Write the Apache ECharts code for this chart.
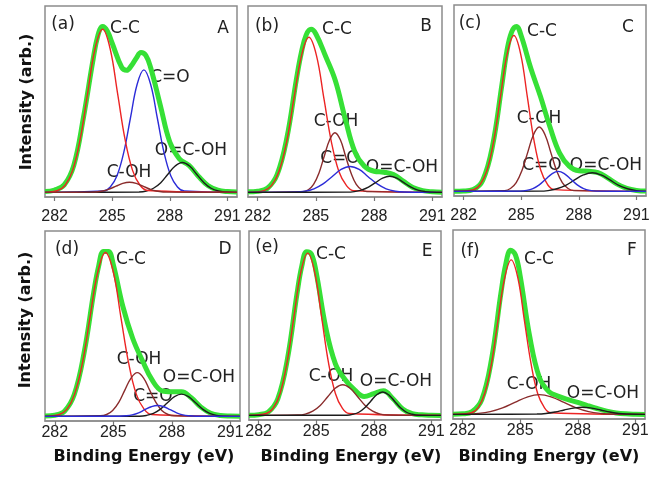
<!DOCTYPE html>
<html>
<head>
<meta charset="utf-8">
<script src="https://cdn.jsdelivr.net/npm/echarts@6/dist/echarts.min.js"></script>
<style>
  html, body { margin: 0; background: #fff; }
  #chart { width: 653px; height: 487px; }
</style>
</head>
<body>
<div id="chart"></div>
<script>
// x axis ticks (binding energy, eV)
var energyTicks = [282, 285, 288, 291];
var panelTags = ['(a)', '(b)', '(c)', '(d)', '(e)', '(f)'];
var panelLetters = ['A', 'B', 'C', 'D', 'E', 'F'];

// ---- panel A ----
var dataA = [[281.5,0.4],[282,1.2],[282.5,4],[283,14.5],[283.5,40],[284,71],[284.25,84],[284.5,89],[284.75,86.5],[285,80],[285.5,67],[285.75,65.5],[286,68],[286.25,72],[286.5,75],[286.75,73.5],[287,67],[287.5,47],[288,27],[288.5,18],[289,14.5],[289.5,8.5],[290,3.5],[290.5,1.2],[291,0.4],[291.5,0.2]];
var ccA = [[281.5,0],[282.16,1.0],[282.55,3.8],[282.94,11.8],[283.33,28.4],[283.72,53.1],[284.11,77.2],[284.5,87.5],[284.89,77.2],[285.28,53.1],[285.67,28.4],[286.06,11.8],[286.45,3.8],[286.84,1.0],[291.5,0]];
var coA = [[281.5,0],[284.55,0.7],[284.9,2.9],[285.25,8.9],[285.6,21.3],[285.95,39.9],[286.3,58.0],[286.65,65.7],[287.0,58.0],[287.35,39.9],[287.7,21.3],[288.05,8.9],[288.4,2.9],[288.75,0.7],[291.5,0]];
var cohA = [[281.5,0],[283.8,0.1],[284.15,0.2],[284.5,0.7],[284.85,1.8],[285.2,3.3],[285.55,4.8],[285.9,5.4],[286.25,4.8],[286.6,3.3],[286.95,1.8],[287.3,0.7],[287.65,0.2],[288.0,0.1],[291.5,0]];
var coohA = [[281.5,0],[286.4,0.2],[286.78,0.7],[287.15,2.2],[287.53,5.2],[287.9,9.7],[288.28,14.1],[288.65,16],[289.03,14.1],[289.4,9.7],[289.78,5.2],[290.15,2.2],[290.53,0.7],[290.9,0.2],[291.5,0]];

// ---- panel B ----
var dataB = [[281.5,0.3],[282,0.6],[282.5,2.2],[283,9.5],[283.5,29],[284,61],[284.25,75],[284.5,84.5],[284.75,87.5],[285,85],[285.5,73],[286,60],[286.5,40],[287,22],[287.5,14],[288,11.3],[288.5,10.8],[289,9.5],[289.5,6],[290,2.6],[290.5,0.9],[291,0.3],[291.5,0.1]];
var ccB = [[281.5,0],[282.33,0.9],[282.72,3.7],[283.1,11.3],[283.49,27.0],[283.87,50.5],[284.26,73.4],[284.64,83.2],[285.03,73.4],[285.41,50.5],[285.8,27.0],[286.18,11.3],[286.57,3.7],[286.95,0.9],[291.5,0]];
var cohB = [[281.5,0],[284.33,0.4],[284.61,1.4],[284.88,4.3],[285.16,10.4],[285.43,19.4],[285.71,28.2],[285.98,32],[286.26,28.2],[286.53,19.4],[286.81,10.4],[287.08,4.3],[287.36,1.4],[287.63,0.4],[291.5,0]];
var coB = [[281.5,0],[283.97,0.2],[284.44,0.6],[284.9,1.9],[285.37,4.5],[285.83,8.4],[286.3,12.3],[286.76,13.9],[287.23,12.3],[287.69,8.4],[288.16,4.5],[288.62,1.9],[289.09,0.6],[289.55,0.2],[291.5,0]];
var coohB = [[281.5,0],[286.61,0.1],[286.98,0.4],[287.34,1.2],[287.71,2.8],[288.07,5.2],[288.44,7.6],[288.8,8.6],[289.17,7.6],[289.53,5.2],[289.9,2.8],[290.26,1.2],[290.63,0.4],[290.99,0.1],[291.5,0]];

// ---- panel C ----
var dataC = [[281.5,0.1],[282,0.2],[282.5,1.0],[283,6],[283.5,24],[284,57.5],[284.25,75],[284.5,85.5],[284.75,88.5],[285,83.5],[285.5,66],[286,51],[286.5,34.5],[287,20.5],[287.5,13.5],[288,11],[288.5,10.8],[289,10],[289.5,7.2],[290,3.9],[290.5,1.6],[291,0.5],[291.5,0.2]];
var ccC = [[281.5,0],[282.52,0.9],[282.87,3.7],[283.22,11.3],[283.57,27.1],[283.92,50.7],[284.27,73.8],[284.62,83.6],[284.97,73.8],[285.32,50.7],[285.67,27.1],[286.02,11.3],[286.37,3.7],[286.72,0.9],[291.5,0]];
var cohC = [[281.5,0],[284.14,0.4],[284.44,1.5],[284.74,4.7],[285.04,11.2],[285.34,20.9],[285.64,30.4],[285.94,34.5],[286.24,30.4],[286.54,20.9],[286.84,11.2],[287.14,4.7],[287.44,1.5],[287.74,0.4],[291.5,0]];
var coC = [[281.5,0],[284.95,0.1],[285.28,0.5],[285.61,1.5],[285.94,3.5],[286.27,6.5],[286.6,9.4],[286.93,10.7],[287.26,9.4],[287.59,6.5],[287.92,3.5],[288.25,1.5],[288.58,0.5],[288.91,0.1],[291.5,0]];
var coohC = [[281.5,0],[285.94,0.1],[286.4,0.4],[286.86,1.4],[287.32,3.2],[287.78,6.1],[288.24,8.8],[288.7,10],[289.16,8.8],[289.62,6.1],[290.08,3.2],[290.54,1.4],[291.0,0.4],[291.5,0]];

// ---- panel D ----
var dataD = [[281.5,0.2],[282,0.6],[282.5,2.8],[283,11.8],[283.5,34],[284,67],[284.25,81],[284.5,89],[284.75,89],[285,82],[285.5,59],[286,42],[286.5,30],[287,19.5],[287.5,13.8],[288,13.3],[288.5,13.3],[289,10],[289.5,5],[290,1.7],[290.5,0.5],[291,0.2],[291.5,0.1]];
var ccD = [[281.5,0],[282.23,1.0],[282.63,3.9],[283.02,12.0],[283.42,28.7],[283.81,53.6],[284.21,78.0],[284.6,88.4],[285.0,78.0],[285.39,53.6],[285.79,28.7],[286.18,12.0],[286.58,3.9],[286.97,1.0],[291.5,0]];
var cohD = [[281.5,0],[284.34,0.3],[284.66,1.0],[284.97,3.2],[285.29,7.7],[285.6,14.3],[285.92,20.8],[286.23,23.6],[286.55,20.8],[286.86,14.3],[287.18,7.7],[287.49,3.2],[287.81,1.0],[288.12,0.3],[291.5,0]];
var coD = [[281.5,0],[285.32,0.1],[285.65,0.3],[285.97,0.8],[286.3,1.9],[286.62,3.6],[286.95,5.2],[287.27,5.9],[287.6,5.2],[287.92,3.6],[288.25,1.9],[288.57,0.8],[288.9,0.3],[289.22,0.1],[291.5,0]];
var coohD = [[281.5,0],[286.34,0.1],[286.7,0.5],[287.06,1.6],[287.42,3.9],[287.78,7.3],[288.14,10.6],[288.5,12],[288.86,10.6],[289.22,7.3],[289.58,3.9],[289.94,1.6],[290.3,0.5],[290.66,0.1],[291.5,0]];

// ---- panel E ----
var dataE = [[281.5,0.1],[282,0.4],[282.5,1.8],[283,9],[283.5,30.5],[284,66],[284.25,81],[284.5,88.8],[284.75,87.5],[285,77.5],[285.5,47.5],[286,28],[286.5,19.5],[287,13.8],[287.5,10.2],[288,11.8],[288.5,13.3],[289,9],[289.5,3.5],[290,0.9],[290.5,0.3],[291,0.1],[291.5,0]];
var ccE = [[281.5,0],[282.4,1.0],[282.76,3.9],[283.12,11.9],[283.48,28.6],[283.84,53.4],[284.2,77.7],[284.56,88],[284.92,77.7],[285.28,53.4],[285.64,28.6],[286.0,11.9],[286.36,3.9],[286.72,1.0],[291.5,0]];
var cohE = [[281.5,0],[284.04,0.2],[284.43,0.7],[284.82,2.3],[285.21,5.4],[285.6,10.1],[285.99,14.7],[286.38,16.6],[286.77,14.7],[287.16,10.1],[287.55,5.4],[287.94,2.3],[288.33,0.7],[288.72,0.2],[291.5,0]];
var coohE = [[281.5,0],[286.6,0.1],[286.91,0.6],[287.22,1.7],[287.53,4.1],[287.84,7.7],[288.15,11.2],[288.46,12.7],[288.77,11.2],[289.08,7.7],[289.39,4.1],[289.7,1.7],[290.01,0.6],[290.32,0.1],[291.5,0]];

// ---- panel F ----
var dataF = [[281.5,0.1],[282,0.3],[282.5,1.5],[283,8],[283.5,29.5],[284,66],[284.25,81.5],[284.5,89],[284.75,86.5],[285,75],[285.5,42],[286,20],[286.5,12.3],[287,9.8],[287.5,8],[288,6.5],[288.5,4.8],[289,3.2],[289.5,1.8],[290,0.8],[290.5,0.3],[291,0.1],[291.5,0]];
var ccF = [[281.5,0],[282.46,0.9],[282.81,3.7],[283.15,11.3],[283.5,27.2],[283.84,50.8],[284.19,73.9],[284.53,83.8],[284.88,73.9],[285.22,50.8],[285.57,27.2],[285.91,11.3],[286.26,3.7],[286.6,0.9],[291.5,0]];
var cohF = [[281.5,0],[282.16,0.1],[282.8,0.5],[283.44,1.5],[284.08,3.5],[284.72,6.5],[285.36,9.4],[286.0,10.7],[286.64,9.4],[287.28,6.5],[287.92,3.5],[288.56,1.5],[289.2,0.5],[289.84,0.1],[291.5,0]];
var coohF = [[281.5,0],[285.87,0.2],[286.34,0.5],[286.82,1.3],[287.29,2.4],[287.77,3.4],[288.24,3.9],[288.72,3.4],[289.19,2.4],[289.67,1.3],[290.14,0.5],[290.62,0.2],[291.5,0]];

// which fitted components each panel shows (drawing order: last one on top)
var panelData = [dataA, dataB, dataC, dataD, dataE, dataF];
var panelComps = [
  [['C=O', coA], ['O=C-OH', coohA], ['C-C', ccA], ['C-OH', cohA]],
  [['C-C', ccB], ['C-OH', cohB], ['C=O', coB], ['O=C-OH', coohB]],
  [['C-C', ccC], ['C-OH', cohC], ['O=C-OH', coohC], ['C=O', coC]],
  [['C-C', ccD], ['C-OH', cohD], ['O=C-OH', coohD], ['C=O', coD]],
  [['C-C', ccE], ['C-OH', cohE], ['O=C-OH', coohE]],
  [['C-C', ccF], ['C-OH', cohF], ['O=C-OH', coohF]]
];

var compColor = { 'C-C': '#ec2424', 'C=O': '#2c2cd8', 'C-OH': '#8a2c2c', 'O=C-OH': '#1c1c1c' };

// layout (pixels)
var boxes = [
  { left: 45, top: 6, width: 192, height: 191 },
  { left: 248, top: 6, width: 194, height: 191 },
  { left: 454, top: 5, width: 192, height: 191 },
  { left: 45, top: 231, width: 195, height: 190 },
  { left: 249, top: 231, width: 192, height: 189 },
  { left: 453, top: 230, width: 192, height: 189 }
];
var labelMargin = [12, 12, 12, 4, 4, 4];
var tagPos = [[63,25],[267,27],[470,24],[67,250],[267,248],[470,252]];
var letterPos = [[223,29],[426,27],[628,28],[225,250],[427,252],[632,251]];
var peakLabelPos = [
  [['C-C',125,29],['C=O',170,78],['O=C-OH',191,151],['C-OH',129,173]],
  [['C-C',337,30],['C-OH',336,122],['C=O',340,159],['O=C-OH',402,168]],
  [['C-C',542,32],['C-OH',539,119],['C=O',542,166],['O=C-OH',606,166]],
  [['C-C',131,260],['C-OH',139,360],['C=O',153,397],['O=C-OH',199,378]],
  [['C-C',331,255],['C-OH',331,377],['O=C-OH',396,382]],
  [['C-C',539,260],['C-OH',529,385],['O=C-OH',603,394]]
];

var labelFont = '17px "DejaVu Sans"';
var titleFont = 'bold 16px "DejaVu Sans"';

var grids = [], xAxes = [], yAxes = [], series = [], graphics = [];

boxes.forEach(function (b, i) {
  grids.push({
    left: b.left, top: b.top, width: b.width, height: b.height,
    show: true, borderColor: '#8c8c8c', borderWidth: 1.5,
    containLabel: false, outerBoundsMode: 'none'
  });
  xAxes.push({
    gridIndex: i, type: 'value', min: 281.5, max: 291.5,
    axisLine: { show: true, onZero: false, lineStyle: { color: '#8c8c8c', width: 1.5 } },
    axisTick: { show: true, customValues: energyTicks, length: 4, lineStyle: { color: '#777', width: 1.2 } },
    axisLabel: { customValues: energyTicks, fontSize: 16, fontFamily: 'Liberation Sans', color: '#222', margin: labelMargin[i] },
    splitLine: { show: false }
  });
  yAxes.push({ gridIndex: i, type: 'value', min: -2.5, max: 100, show: false });

  // measured spectrum: thick green band
  series.push({
    type: 'line', xAxisIndex: i, yAxisIndex: i, data: panelData[i],
    smooth: 0.4, showSymbol: false, silent: true,
    lineStyle: { color: '#36e036', width: 5 }
  });
  panelComps[i].forEach(function (c) {
    series.push({
      type: 'line', xAxisIndex: i, yAxisIndex: i, data: c[1],
      smooth: 0.4, showSymbol: false, silent: true,
      lineStyle: { color: compColor[c[0]], width: 1.4 }
    });
  });

  graphics.push({ type: 'text', x: tagPos[i][0], y: tagPos[i][1],
    style: { text: panelTags[i], font: labelFont, fill: '#222', align: 'center', verticalAlign: 'middle' } });
  graphics.push({ type: 'text', x: letterPos[i][0], y: letterPos[i][1],
    style: { text: panelLetters[i], font: labelFont, fill: '#222', align: 'center', verticalAlign: 'middle' } });
  peakLabelPos[i].forEach(function (p) {
    graphics.push({ type: 'text', x: p[1], y: p[2],
      style: { text: p[0], font: labelFont, fill: '#222', align: 'center', verticalAlign: 'middle' } });
  });
});

[[27,102],[26,320]].forEach(function (p) {
  graphics.push({ type: 'text', x: p[0], y: p[1], rotation: Math.PI / 2,
    style: { text: 'Intensity (arb.)', font: titleFont, fill: '#111', align: 'center', verticalAlign: 'middle' } });
});
[[144,457],[351,457],[549,457]].forEach(function (p) {
  graphics.push({ type: 'text', x: p[0], y: p[1],
    style: { text: 'Binding Energy (eV)', font: titleFont, fill: '#111', align: 'center', verticalAlign: 'middle' } });
});

var chart = echarts.init(document.getElementById('chart'));
chart.setOption({
  animation: false,
  backgroundColor: '#fff',
  grid: grids,
  xAxis: xAxes,
  yAxis: yAxes,
  series: series,
  graphic: graphics
});
</script>
</body>
</html>
